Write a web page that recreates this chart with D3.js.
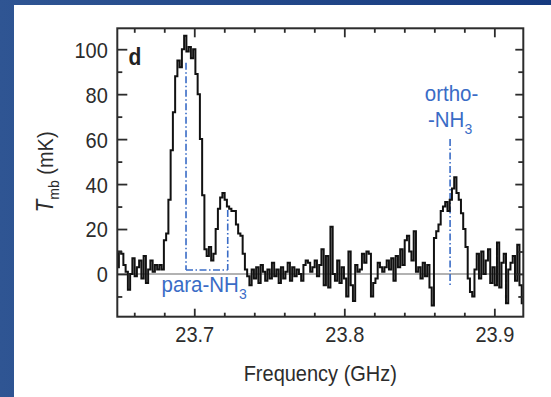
<!DOCTYPE html>
<html><head><meta charset="utf-8">
<script src="https://cdn.jsdelivr.net/npm/d3@7"></script>
<style>html,body{margin:0;padding:0;background:#fff;} svg{display:block;}</style>
</head><body>
<svg id="chart" width="551" height="397"></svg>
<script>
// ---- data ----
const freqStart = 23.649;      // GHz, first channel
const channelWidth = 0.0015;   // GHz
const temps = [
  3, 10, 9, 4, 1, -7, 0, 7, -1, 3, 6, -2, 8, -4, 2, 6, 1, 4, 2, 4, 2,
  15, 18, 33, 55, 72, 88, 95, 92, 100, 106, 99, 101, 96, 100, 89, 80, 60, 35, 11, 8,
  12, 6, 9, 20, 29, 34, 36, 33, 30, 29, 28, 28, 22, 18, 17, 9, 2,
  -1, -5, 2, -2, 3, -4, 4, 1, -3, 2, -2, 5, -1, 2, -4, 3, -2, 1, 5, -3, 3, -1, 2,
  0, -3, 4, 6, 5, 1, 3, 6, -1, 4,
  11, -5, 8, -6, 21, 0, -3, 6, -4, 3,
  -2, -10, 10, -5, -12, 4, 1, 2, 9, 5,
  10, 9, -10, -4, -2, 5, 3, 1, 3, 6,
  2, 7, -3, 8, 3, 11, 4, 15, 17, 10,
  6, 19, 1, 3, -2, 5, -1, 4, -6, -14,
  16, 19, 22, 28, 30, 32, 28, 33, 38, 43, 36, 33, 27, 20, 12, -2, -8,
  -10, 2, 9, -2, 10, 0, 6, 11, -4, 3, -5, 14, -6, 5, 9, -13, 2, 5, 8, -3, 13, -5, -13
];
const xMajorTicks = [23.7, 23.8, 23.9];
const xMinorTicks = [23.66, 23.68, 23.72, 23.74, 23.76, 23.78, 23.82, 23.84, 23.86, 23.88];
const yMajorTicks = [0, 20, 40, 60, 80, 100];
const yMinorTicks = [-10, 10, 30, 50, 70, 90];
const xDomain = [23.6487, 23.9193];
const yDomain = [-19, 109.3];
// para-NH3 marker: two line positions, their heights, common base
const paraFreqs = [23.6945, 23.7223];
const paraTops = [94, 28.5];
const paraBase = 1.8;
// ortho-NH3 marker
const orthoFreq = 23.8705;
const orthoRange = [60, -5.5];
const panelLabel = "d";
const xLabel = "Frequency (GHz)";

// ---- layout ----
const W = 551, H = 397;
const plot = {left: 117.3, right: 523.3, top: 28.3, bottom: 316.7};
const FONT = "'Liberation Sans', Arial, Helvetica, sans-serif";
const BLUE = "#3a6cc6";
const AXC = "#2c2c2c";
const SY = 1.1; // slight vertical stretch of the lettering

const svg = d3.select("#chart");
const defs = svg.append("defs");
const grad = defs.append("linearGradient").attr("id", "bg").attr("x1", "0").attr("x2", "1").attr("y1", "0").attr("y2", "0");
grad.append("stop").attr("offset", "0").attr("stop-color", "#2f5593");
grad.append("stop").attr("offset", "1").attr("stop-color", "#163a7f");
svg.append("rect").attr("width", W).attr("height", H).attr("fill", "url(#bg)");
svg.append("rect").attr("x", 14).attr("y", 5).attr("width", W - 14).attr("height", H - 5).attr("fill", "#fff");

defs.append("clipPath").attr("id", "clip").append("rect")
  .attr("x", plot.left).attr("y", plot.top)
  .attr("width", plot.right - plot.left).attr("height", plot.bottom - plot.top);

const x = d3.scaleLinear().domain(xDomain).range([plot.left, plot.right]);
const y = d3.scaleLinear().domain(yDomain).range([plot.bottom, plot.top]);

const data = temps.map((t, i) => ({f: freqStart + i * channelWidth, t}));

// zero line
svg.append("line").attr("x1", plot.left).attr("x2", plot.right)
  .attr("y1", y(0)).attr("y2", y(0)).attr("stroke", "#666").attr("stroke-width", 1.2);

// blue dash-dot markers
const dash = "7,2.5,1.5,2.5";
const mk = svg.append("g").attr("fill", "none").attr("stroke", BLUE).attr("stroke-width", 1.6).attr("stroke-dasharray", dash);
paraFreqs.forEach((f, k) => {
  mk.append("line").attr("x1", x(f)).attr("x2", x(f)).attr("y1", y(paraTops[k])).attr("y2", y(paraBase));
});
mk.append("line").attr("x1", x(paraFreqs[0])).attr("x2", x(paraFreqs[1])).attr("y1", y(paraBase)).attr("y2", y(paraBase));
mk.append("line").attr("x1", x(orthoFreq)).attr("x2", x(orthoFreq)).attr("y1", y(orthoRange[0])).attr("y2", y(orthoRange[1]));

// spectrum
const line = d3.line().x(d => x(d.f)).y(d => y(d.t)).curve(d3.curveStep);
svg.append("path").datum(data).attr("clip-path", "url(#clip)")
  .attr("d", line).attr("fill", "none").attr("stroke", "#111").attr("stroke-width", 2)
  .attr("stroke-linejoin", "miter");

// axes (ticks pointing inward)
function styleAxis(g) {
  g.select(".domain").remove();
  g.selectAll("line").attr("stroke", AXC).attr("stroke-width", 1.8);
  g.selectAll("text").attr("font-family", FONT).attr("font-size", 20).attr("fill", AXC);
}
const noLab = () => "";
svg.append("g").attr("transform", `translate(0,${plot.bottom})`)
  .call(d3.axisBottom(x).tickValues(xMajorTicks).tickSize(-8).tickFormat(d3.format(".1f")))
  .call(styleAxis)
  .call(g => g.selectAll("text").attr("dy", null).attr("y", 25 / SY).attr("transform", `scale(1,${SY})`));
svg.append("g").attr("transform", `translate(0,${plot.bottom})`)
  .call(d3.axisBottom(x).tickValues(xMinorTicks).tickSize(-4).tickFormat(noLab)).call(styleAxis);
svg.append("g").attr("transform", `translate(0,${plot.top})`)
  .call(d3.axisTop(x).tickValues(xMajorTicks).tickSize(-9).tickFormat(noLab)).call(styleAxis);
svg.append("g").attr("transform", `translate(0,${plot.top})`)
  .call(d3.axisTop(x).tickValues(xMinorTicks).tickSize(-4.5).tickFormat(noLab)).call(styleAxis);
svg.append("g").attr("transform", `translate(${plot.left},0)`)
  .call(d3.axisLeft(y).tickValues(yMajorTicks).tickSize(-10).tickPadding(9.5))
  .call(styleAxis)
  .call(g => g.selectAll("text").attr("dy", "0.36em").attr("transform", `scale(1,${SY})`));
svg.append("g").attr("transform", `translate(${plot.left},0)`)
  .call(d3.axisLeft(y).tickValues(yMinorTicks).tickSize(-5).tickFormat(noLab)).call(styleAxis);
svg.append("g").attr("transform", `translate(${plot.right},0)`)
  .call(d3.axisRight(y).tickValues(yMajorTicks).tickSize(-8).tickFormat(noLab)).call(styleAxis);
svg.append("g").attr("transform", `translate(${plot.right},0)`)
  .call(d3.axisRight(y).tickValues(yMinorTicks).tickSize(-5).tickFormat(noLab)).call(styleAxis);

// frame
svg.append("rect").attr("x", plot.left).attr("y", plot.top)
  .attr("width", plot.right - plot.left).attr("height", plot.bottom - plot.top)
  .attr("fill", "none").attr("stroke", AXC).attr("stroke-width", 2);

// labels
svg.append("text").attr("transform", `translate(${(plot.left + plot.right) / 2},381) scale(1,${SY})`)
  .attr("text-anchor", "middle").attr("font-family", FONT).attr("font-size", 20).attr("fill", AXC)
  .text(xLabel);

const yl = svg.append("text").attr("transform", `translate(53,172) rotate(-90) scale(1,${SY})`)
  .attr("text-anchor", "middle").attr("font-family", FONT).attr("font-size", 20).attr("fill", AXC);
yl.append("tspan").attr("font-style", "italic").attr("font-size", 21).text("T");
yl.append("tspan").attr("font-size", 14).attr("dy", 5).text("mb");
yl.append("tspan").attr("dy", -5).text(" (mK)");

svg.append("text").attr("transform", `translate(128.5,65) scale(1,${SY})`).attr("font-family", FONT)
  .attr("font-size", 21).attr("font-weight", "bold").attr("fill", "#222").text(panelLabel);

// annotations
const para = svg.append("text").attr("transform", `translate(161.5,292) scale(1,${SY})`).attr("font-family", FONT)
  .attr("font-size", 20.5).attr("fill", BLUE);
para.append("tspan").text("para-NH");
para.append("tspan").attr("font-size", 14).attr("dy", 6).text("3");

svg.append("text").attr("transform", `translate(451.5,101) scale(1,${SY})`).attr("text-anchor", "middle").attr("font-family", FONT)
  .attr("font-size", 20.5).attr("fill", BLUE).text("ortho-");
const on = svg.append("text").attr("transform", `translate(428,127) scale(1,${SY})`).attr("font-family", FONT)
  .attr("font-size", 20.5).attr("fill", BLUE);
on.append("tspan").text("-NH");
on.append("tspan").attr("font-size", 14).attr("dy", 6).text("3");
</script>
</body></html>
